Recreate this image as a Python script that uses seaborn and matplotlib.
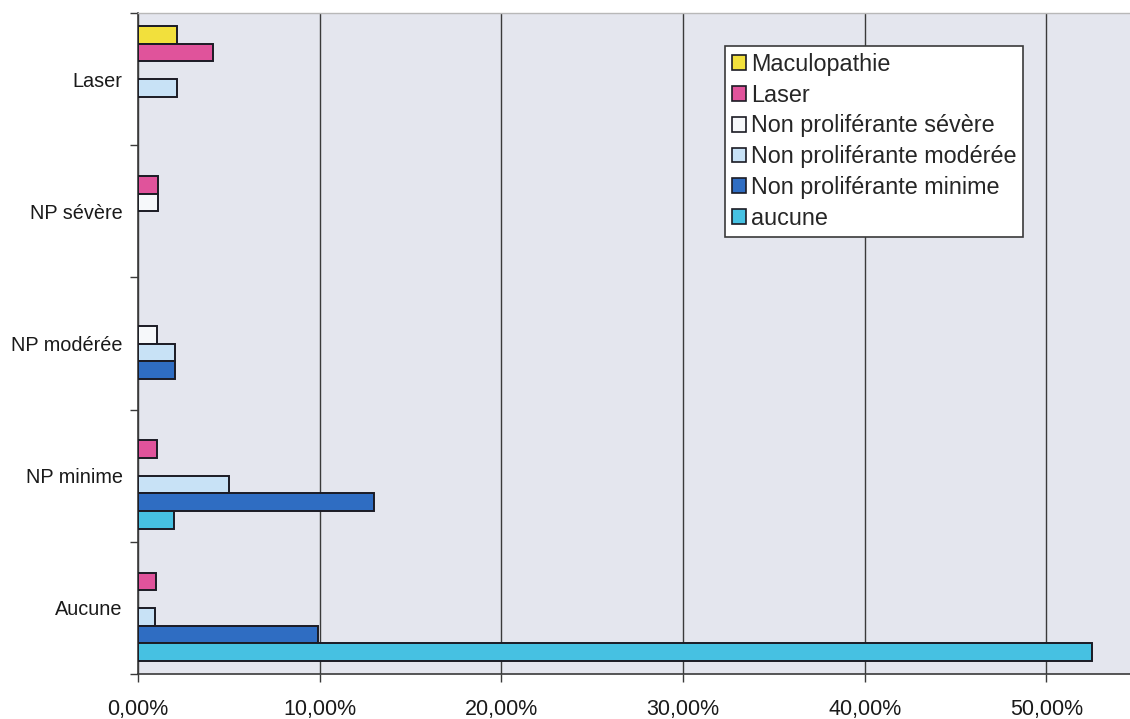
"""
Retinopathie : répartition par stade (barres horizontales groupées).
"""
import numpy as np
import pandas as pd
import matplotlib.pyplot as plt
import seaborn as sns
from matplotlib.patches import Patch
from matplotlib.ticker import FuncFormatter, FixedLocator

# categories (top to bottom) and series (hue order)
categories = ["Laser", "NP sévère", "NP modérée", "NP minime", "Aucune"]
series = ["Maculopathie", "Laser", "Non proliférante sévère",
          "Non proliférante modérée", "Non proliférante minime", "aucune"]
colors = ["#F2E03C", "#E0539B", "#F6F8FA", "#C8E2F6", "#2F6DC2", "#46C1E2"]

# values in %, one list per series, aligned with categories
maculopathie = [2.15, 0, 0, 0, 0]
laser = [4.15, 1.1, 0, 1.05, 1.0]
np_severe = [0, 1.1, 1.07, 0, 0]
np_moderee = [2.15, 0, 2.05, 5.0, 0.96]
np_minime = [0, 0, 2.05, 13.0, 9.9]
aucune = [0, 0, 0, 2.0, 52.5]

values = [maculopathie, laser, np_severe, np_moderee, np_minime, aucune]

rows = []
for s, vals in zip(series, values):
    for c, v in zip(categories, vals):
        if v > 0:
            rows.append({"categorie": c, "serie": s, "pct": v})
df = pd.DataFrame(rows)

sns.set_style("white")
plt.rcParams["font.family"] = ["Liberation Sans", "DejaVu Sans"]

fig = plt.figure(figsize=(11.3, 7.19), dpi=100)
ax = fig.add_axes([138 / 1130, 1 - 674 / 719, 992 / 1130, 661 / 719])
ax.set_facecolor("#E4E6EE")

sns.barplot(data=df, y="categorie", x="pct", hue="serie", order=categories,
            hue_order=series, palette=colors, saturation=1, orient="h", width=0.8,
            errorbar=None, edgecolor="#1b1b24", linewidth=1.4,
            legend=False, ax=ax, zorder=3)

ax.set_xlim(0, 54.6)
ax.set_ylim(len(categories) - 0.5, -0.5)
ax.set_xticks(np.arange(0, 51, 10))
ax.xaxis.set_major_formatter(FuncFormatter(lambda v, p: f"{v:.2f}%".replace(".", ",")))
ax.grid(axis="x", color="#3a3a3a", linewidth=1.0, zorder=1)
ax.set_axisbelow(True)

# y tick marks at category boundaries, labels at centres
ax.yaxis.set_minor_locator(FixedLocator(np.arange(-0.5, len(categories), 1)))
ax.tick_params(axis="y", which="major", length=0, pad=11, labelsize=14.3, labelcolor="#1a1a1a")
ax.tick_params(axis="y", which="minor", left=True, length=6, width=1, color="#3a3a3a")
ax.tick_params(axis="x", which="major", bottom=True, length=6, width=1, color="#3a3a3a",
               pad=12, labelsize=15.5, labelcolor="#1a1a1a")

ax.set_xlabel("")
ax.set_ylabel("")

for side in ["left", "bottom"]:
    ax.spines[side].set_color("#3a3a3a")
    ax.spines[side].set_linewidth(1.2)
ax.spines["top"].set_color("#b8b8b8")
ax.spines["top"].set_linewidth(1.0)
ax.spines["right"].set_visible(False)

handles = [Patch(facecolor=c, edgecolor="#1b1b24", linewidth=1.2) for c in colors]
leg = ax.legend(handles, series, loc="upper left", bbox_to_anchor=(0.592, 0.950),
                borderaxespad=0, fontsize=16.8, frameon=True, fancybox=False,
                handlelength=0.6, handleheight=0.6, handletextpad=0.2,
                labelspacing=0.33, borderpad=0.3)
leg.get_frame().set_edgecolor("#3a3a3a")
leg.get_frame().set_linewidth(1.2)
leg.get_frame().set_facecolor("white")
leg.get_frame().set_alpha(1)
leg.set_zorder(5)

fig.savefig("out.png", dpi=100)
